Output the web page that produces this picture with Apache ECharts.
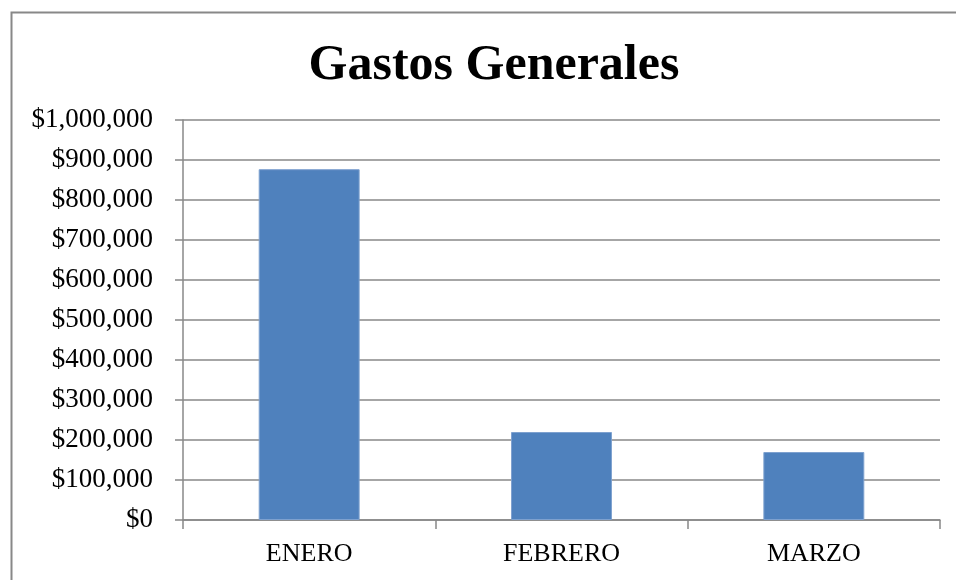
<!DOCTYPE html>
<html>
<head>
<meta charset="utf-8">
<script src="https://cdn.jsdelivr.net/npm/echarts@6/dist/echarts.min.js"></script>
<style>
  html, body { margin: 0; padding: 0; background: #fff; }
  #chart { width: 956px; height: 580px; }
</style>
</head>
<body>
<div id="chart"></div>
<script>
const meses = ['ENERO', 'FEBRERO', 'MARZO']
const gastos = [877000, 220000, 170000]
const yMin = 0
const yMax = 1000000
const yStep = 100000

const myChart = echarts.init(document.getElementById('chart'))
const fontFam = '"Liberation Serif", "DejaVu Serif", serif'

const option = {
  backgroundColor: '#fff',
  animation: false,
  title: {
    text: 'Gastos Generales',
    left: 489,
    textAlign: 'center',
    top: 36,
    textStyle: {
      fontFamily: fontFam,
      fontWeight: 'bold',
      fontSize: 50,
      color: '#000'
    }
  },
  graphic: [
    {
      type: 'rect',
      left: 9,
      top: 10,
      shape: { width: 1000, height: 700 },
      style: { fill: 'none', stroke: '#888', lineWidth: 2 },
      silent: true
    }
  ],
  grid: {
    left: 183,
    right: 16,
    top: 120,
    bottom: 60,
    containLabel: false
  },
  xAxis: {
    type: 'category',
    data: meses,
    axisLine: { show: true, lineStyle: { color: '#888', width: 1.5 } },
    axisTick: { show: true, length: 9, lineStyle: { color: '#888', width: 1.5 } },
    axisLabel: {
      fontFamily: fontFam,
      fontSize: 26,
      color: '#000',
      margin: 21
    },
    splitLine: { show: false }
  },
  yAxis: {
    type: 'value',
    min: yMin,
    max: yMax,
    interval: yStep,
    axisLine: { show: true, lineStyle: { color: '#888', width: 1.5 } },
    axisTick: { show: true, length: 8, lineStyle: { color: '#888', width: 1.5 } },
    axisLabel: {
      fontFamily: fontFam,
      fontSize: 27,
      color: '#000',
      margin: 30,
      formatter: function (v) {
        return '$' + v.toLocaleString('en-US')
      }
    },
    splitLine: { show: true, lineStyle: { color: '#888', width: 1.5 } }
  },
  series: [
    {
      type: 'bar',
      data: gastos,
      barWidth: '40%',
      itemStyle: {
        color: '#4F81BD',
        borderColor: '#7ea1cf',
        borderWidth: 1
      }
    }
  ]
}
myChart.setOption(option)
</script>
</body>
</html>
